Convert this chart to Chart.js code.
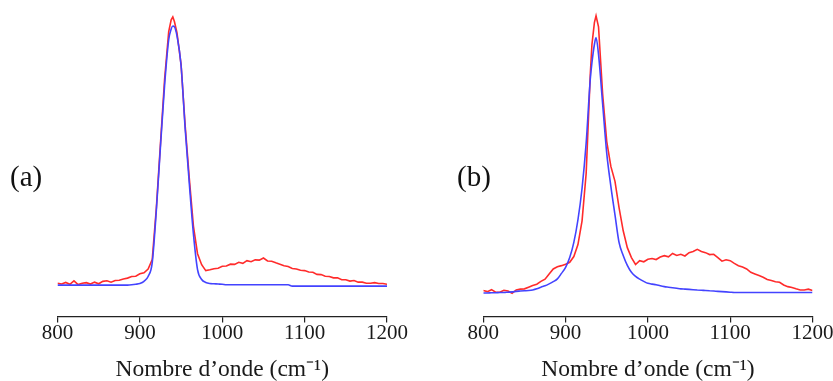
<!DOCTYPE html>
<html><head><meta charset="utf-8">
<script src="https://cdn.jsdelivr.net/npm/chart.js@4"></script>
<style>
html,body{margin:0;padding:0;background:#fff;width:833px;height:381px;overflow:hidden}
.panel{position:absolute;top:0;height:381px}
#pa{left:0;width:420px}
#pb{left:420px;width:413px}
.lab{position:absolute;font-family:"Liberation Serif",serif;font-size:29px;line-height:29px;color:#111;top:162px}
</style></head><body>
<div class="panel" id="pa"><canvas id="ca"></canvas></div>
<div class="panel" id="pb"><canvas id="cb"></canvas></div>
<div class="lab" style="left:10px">(a)</div>
<div class="lab" style="left:457px">(b)</div>
<script>
// Panel (a) wavenumbers (cm-1)
const waveA = [800,805,810,815,820,825,830,835,840,845,850,855,860,865,870,875,880,885,890,895,900,905,910,915,920,925,930,935,
  938,940,942,
  945,950,955,960,965,970,975,980,985,990,995,1000,1005,1010,1015,1020,1025,1030,1035,1040,1045,1050,1055,1060,1065,1070,1075,1080,1085,1090,1095,1100,
  1105,1110,1115,1120,1125,1130,1135,1140,1145,1150,1155,1160,1165,1170,1175,1180,1185,1190,1195,1200];
// Panel (a) measured spectrum (red), normalised intensity x1000
const redA = [8,5,11,4,17,3,8,10,5,12,6,15,17,12,18,19,24,27,33,34,43,47,61,96,288,528,768,945,
  989,1000,982,
  941,823,594,399,221,118,77,55,58,62,64,71,72,79,78,86,82,92,88,95,94,102,91,90,84,79,73,70,63,61,56,55,
  50,49,41,40,34,33,28,28,21,21,16,18,12,12,8,8,10,7,7,4];
// Panel (a) fitted band (blue)
const blueA = [1,1,1,1,1,1,1,1,1,1,1,1,1,1,1,1,1,1,2,4,7,15,33,85,280,517,745,915,
  955,966,963,
  930,820,583,380,192,59,22,11,7,6,5,4,2,2,2,2,2,2,2,2,2,2,2,2,2,2,2,2,-3,-3,-3,-3,
  -3,-3,-3,-3,-3,-3,-3,-3,-3,-3,-3,-3,-3,-3,-3,-3,-3,-3,-3,-3];

// Panel (b) wavenumbers (cm-1)
const waveB = [800,805,810,815,820,825,830,835,840,845,850,855,860,865,870,875,880,885,890,895,900,905,910,915,920,925,930,
  932,935,937,940,
  945,950,955,960,965,970,975,980,985,990,995,1000,1005,1010,1015,1020,1025,1030,1035,1040,1045,1050,1055,1060,1065,1070,1075,1080,1085,1090,1095,1100,
  1105,1110,1115,1120,1125,1130,1135,1140,1145,1150,1155,1160,1165,1170,1175,1180,1185,1190,1195,1200];
// Panel (b) measured spectrum (red)
const redB = [6,2,9,0,0,7,4,-4,8,11,12,18,24,29,39,47,66,84,92,96,101,108,129,172,258,430,788,
  896,975,1000,960,
  717,545,455,401,305,222,161,125,100,114,110,119,122,118,127,132,128,140,133,137,131,143,147,155,147,143,136,137,125,112,117,114,
  104,96,91,84,72,66,60,54,46,42,38,36,26,20,17,12,8,8,11,6];
// Panel (b) fitted band (blue)
const blueB = [-3,-3,-2,-2,-1,-1,0,1,3,4,5,6,8,12,18,23,30,38,48,68,90,125,180,262,376,540,771,
  830,896,921,860,
  681,502,383,280,179,133,97,72,57,47,39,32,29,27,23,20,18,16,14,12,11,10,9,8,7,6,5,4,3,2,1,0,
  -1,-1,-1,-1,-1,-1,-1,-1,-1,-1,-1,-1,-1,-1,-1,-1,-1,-1,-1,-1];

const xTicks = [800,900,1000,1100,1200];
const axisTitle = 'Nombre d\u2019onde (cm\u207B\u00B9)';

function pts(xs, ys){ return xs.map((x,i)=>({x:x, y:ys[i]})); }

function makeChart(id, xs, red, blue, ymin, ymax, pad){
  new Chart(document.getElementById(id), {
    type: 'line',
    data: { datasets: [
      { data: pts(xs, blue), borderColor: '#4343ff', borderWidth: 1.6, pointRadius: 0, cubicInterpolationMode: 'monotone', order: 0 },
      { data: pts(xs, red), borderColor: '#ff2b2b', borderWidth: 1.6, pointRadius: 0, tension: 0, order: 1 }
    ]},
    options: {
      responsive: true, maintainAspectRatio: false, animation: false,
      layout: { padding: pad },
      plugins: { legend: { display: false }, tooltip: { enabled: false } },
      scales: {
        x: {
          type: 'linear', min: 800, max: 1200,
          afterBuildTicks: s => { s.ticks = xTicks.map(v => ({value: v})); },
          grid: { display: true, drawOnChartArea: false, drawTicks: true, tickLength: 6, color: '#222', lineWidth: 1.2 },
          border: { display: true, color: '#222', width: 1.3 },
          ticks: { color: '#1a1a1a', font: { family: 'Liberation Serif', size: 21 }, padding: -2, maxRotation: 0, autoSkip: false,
                   callback: v => String(v) },
          title: { display: true, text: axisTitle, color: '#1a1a1a', font: { family: 'Liberation Serif', size: 23.5 }, padding: { top: 12.1, bottom: -3 } }
        },
        y: { display: false, min: ymin, max: ymax }
      }
    }
  });
}

makeChart('ca', waveA, redA, blueA, -116, 1063, {left: 57.5, right: 33, top: 0, bottom: 0});
makeChart('cb', waveB, redB, blueB, -88, 1057, {left: 63.3, right: 20.5, top: 0, bottom: 0});
</script>
</body></html>
